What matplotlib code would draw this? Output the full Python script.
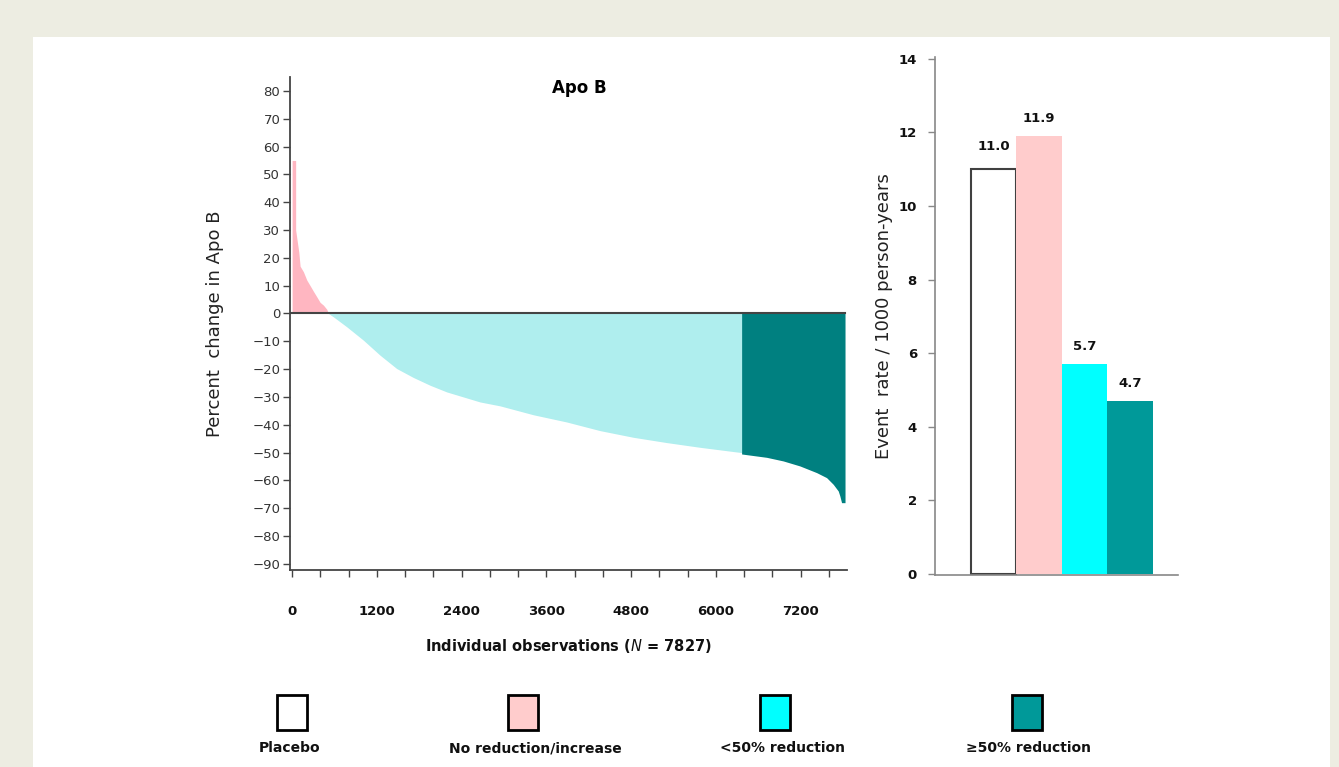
import matplotlib
matplotlib.use('Agg')
import matplotlib.pyplot as plt
from matplotlib.patches import Rectangle

# ---- data ----
N_total = 7827
# waterfall: (observation rank, percent change in Apo B)
pink_x = [0, 50, 50, 95, 113, 160, 208, 255, 301, 349, 396, 443, 491, 514]
pink_y = [55, 55, 30, 22, 17, 15, 12, 10, 8, 6, 4, 3, 1.5, 0]
cyan_x = [514, 584, 774, 1009, 1245, 1481, 1716, 1953, 2189, 2660, 2943,
          3414, 3887, 4358, 4829, 5302, 5773, 6363]
cyan_y = [0, -1.2, -4.8, -9.6, -15, -19.8, -23, -25.8, -28.2, -31.8, -33.2,
          -36.4, -39.0, -42.1, -44.5, -46.4, -48.1, -50]
teal_x = [6363, 6717, 6952, 7188, 7425, 7566, 7660, 7731, 7754, 7778, 7827]
teal_y = [-50.5, -51.7, -53, -54.8, -57.2, -59, -61.4, -63.8, -65.6, -68, -68]

x_tick_step = 400
x_label_step = 1200
y_ticks = list(range(-90, 81, 10))

groups = ['Placebo', 'No reduction/increase', '<50% reduction', '\u226550% reduction']
event_rates = [11.0, 11.9, 5.7, 4.7]
rate_ticks = [0, 2, 4, 6, 8, 10, 12, 14]

# ---- styles ----
wf_colors = ['#FFB6C1', '#AFEEEE', '#008080']
bar_colors = ['#FFFFFF', '#FFCCCC', '#00FFFF', '#009999']
bg = '#EDEDE2'

plt.rcParams['font.family'] = ['DejaVu Sans']

W, H = 1339, 767
fig = plt.figure(figsize=(W / 100, H / 100), dpi=100, facecolor=bg)
fig.add_artist(Rectangle((33 / W, 0), (1330 - 33) / W, (H - 37) / H,
                         transform=fig.transFigure, facecolor='white',
                         edgecolor='none', zorder=-10))

# ---- left waterfall ----
ax = fig.add_axes([290 / W, (H - 570) / H, (847 - 290) / W, (570 - 77) / H])
ax.set_facecolor('white')
ax.fill_between(pink_x, pink_y, 0, color=wf_colors[0], lw=0)
ax.fill_between(cyan_x, cyan_y, 0, color=wf_colors[1], lw=0)
ax.fill_between(teal_x, teal_y, 0, color=wf_colors[2], lw=0)
ax.plot([-30, N_total], [0, 0], color='#444444', lw=1.5)
ax.set_xlim(-30, 7855)
ax.set_ylim(-92.2, 85)
ax.spines['top'].set_visible(False)
ax.spines['right'].set_visible(False)
for s in ['left', 'bottom']:
    ax.spines[s].set_color('#444444')
    ax.spines[s].set_linewidth(1.3)
ax.set_yticks(y_ticks)
ax.set_yticklabels([f'{v}'.replace('-', '\u2212') for v in y_ticks])
ax.tick_params(axis='y', length=5, width=1, color='#444444', labelsize=9.5,
               labelcolor='#333333', pad=2)
xt = list(range(0, 7601, x_tick_step))
ax.set_xticks(xt)
ax.set_xticklabels([str(v) if v % x_label_step == 0 else '' for v in xt],
                   fontweight='bold', fontsize=9.5)
ax.tick_params(axis='x', length=5, width=1, color='#444444', pad=20,
               labelcolor='#111111')
ax.text(0.52, 0.978, 'Apo B', transform=ax.transAxes, ha='center',
        va='center', fontweight='bold', fontsize=12)
ax.set_ylabel('Percent  change in Apo B', fontsize=13, color='#222222',
              labelpad=20)
ax.set_xlabel('Individual observations ($\\it{N}$ = 7827)', fontweight='bold',
              fontsize=10.5, labelpad=14, color='#111111')

# ---- right bar chart ----
bx = fig.add_axes([935 / W, (H - 575) / H, (1178 - 935) / W, (575 - 57) / H])
pos = list(range(len(event_rates)))
bars = bx.bar(pos, event_rates, width=1.0, color=bar_colors)
bars[0].set_edgecolor('#404040')
bars[0].set_linewidth(1.5)
offsets = [0.45, 0.3, 0.3, 0.3]
for p, v, o in zip(pos, event_rates, offsets):
    bx.text(p, v + o, f'{v:.1f}', ha='center', va='bottom', fontweight='bold',
            fontsize=9.5, color='#111111')
bx.set_xlim(-1.29, 4.05)
bx.set_ylim(-0.03, 14.05)
bx.set_yticks(rate_ticks)
bx.set_yticklabels([str(v) for v in rate_ticks], fontweight='bold', fontsize=9.5)
bx.set_xticks([])
bx.spines['top'].set_visible(False)
bx.spines['right'].set_visible(False)
for s in ['left', 'bottom']:
    bx.spines[s].set_color('#888888')
    bx.spines[s].set_linewidth(1.2)
bx.tick_params(axis='y', length=5, width=1, color='#888888', pad=8,
               labelcolor='#111111')
bx.set_ylabel('Event  rate / 1000 person-years', fontsize=13, color='#222222',
              labelpad=4)

# ---- legend ----
box_cx = [292, 523, 775, 1027]
label_cx = [290, 535, 782, 1028]
for cx, lx, lab, c in zip(box_cx, label_cx, groups, bar_colors):
    fig.add_artist(Rectangle(((cx - 15) / W, (H - 730) / H), 30 / W, 35 / H,
                             transform=fig.transFigure, facecolor=c,
                             edgecolor='black', lw=2))
    fig.text(lx / W, (H - 748) / H, lab, ha='center', va='center',
             fontweight='bold', fontsize=10, color='#111111')

fig.savefig('out.png', dpi=100, facecolor=bg)
